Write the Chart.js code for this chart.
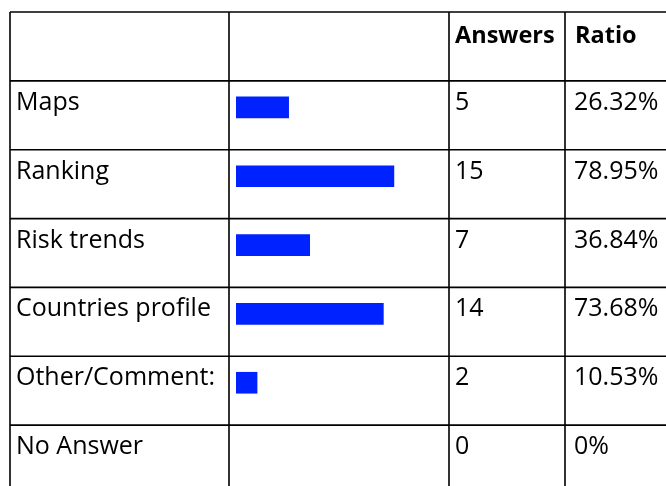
<!DOCTYPE html>
<html>
<head>
<meta charset="utf-8">
<script src="https://cdn.jsdelivr.net/npm/chart.js@4.4.1/dist/chart.umd.min.js"></script>
<style>
  html, body { margin: 0; padding: 0; background: #fff; }
  #wrap { width: 666px; height: 486px; position: relative; }
</style>
</head>
<body>
<div id="wrap"><canvas id="chart"></canvas></div>
<script>
// survey answers, one row per option
const options = ["Maps", "Ranking", "Risk trends", "Countries profile", "Other/Comment:", "No Answer"];
const answers = [5, 15, 7, 14, 2, 0];
const ratios = [26.32, 78.95, 36.84, 73.68, 10.53, 0];
const ratioLabels = ["26.32%", "78.95%", "36.84%", "73.68%", "10.53%", "0%"];
const headers = ["Answers", "Ratio"];

const FONT = "'Open Sans', sans-serif";

// draws the table grid and the text cells around the bars
const tablePlugin = {
  id: "table",
  beforeDraw(chart) {
    const ctx = chart.ctx;
    const y = chart.scales.y;
    const step = y.getPixelForValue(1) - y.getPixelForValue(0);
    const rowTop = (i) => y.getPixelForValue(i) - step * 0.385;
    const left = 10, right = 670;
    const cols = [10, 229, 449, 565];
    const top = 12;
    const bottom = rowTop(options.length);

    ctx.save();
    ctx.strokeStyle = "#000";
    ctx.lineWidth = 1.6;
    ctx.beginPath();
    ctx.moveTo(left, top);
    ctx.lineTo(right, top);
    for (let i = 0; i < options.length; i++) {
      ctx.moveTo(left, rowTop(i));
      ctx.lineTo(right, rowTop(i));
    }
    cols.forEach((x) => {
      ctx.moveTo(x, top);
      ctx.lineTo(x, bottom + 10);
    });
    ctx.stroke();

    ctx.fillStyle = "#000";
    ctx.textBaseline = "alphabetic";
    ctx.font = "bold 23.5px " + FONT;
    ctx.fillText(headers[0], 455, 43);
    ctx.fillText(headers[1], 575, 43);

    ctx.font = "25px " + FONT;
    options.forEach((name, i) => {
      const base = rowTop(i) + 29;
      ctx.fillText(name, 16, base);
      ctx.fillText(String(answers[i]), 455, base);
      ctx.fillText(ratioLabels[i], 574, base);
    });
    ctx.restore();
  },
};

new Chart(document.getElementById("chart"), {
  type: "bar",
  data: {
    labels: options,
    datasets: [
      {
        data: ratios,
        // a zero ratio gets no bar at all
        backgroundColor: (c) => (c.raw > 0 ? "#0022ff" : "rgba(0,0,0,0)"),
        borderWidth: 0,
        barThickness: 21,
      },
    ],
  },
  options: {
    indexAxis: "y",
    responsive: true,
    maintainAspectRatio: false,
    animation: false,
    layout: { padding: { left: 236, right: 230, top: 73, bottom: 0 } },
    plugins: { legend: { display: false }, tooltip: { enabled: false } },
    scales: {
      x: { min: 0, max: 100, display: false },
      y: { display: false },
    },
  },
  plugins: [tablePlugin],
});
</script>
</body>
</html>
